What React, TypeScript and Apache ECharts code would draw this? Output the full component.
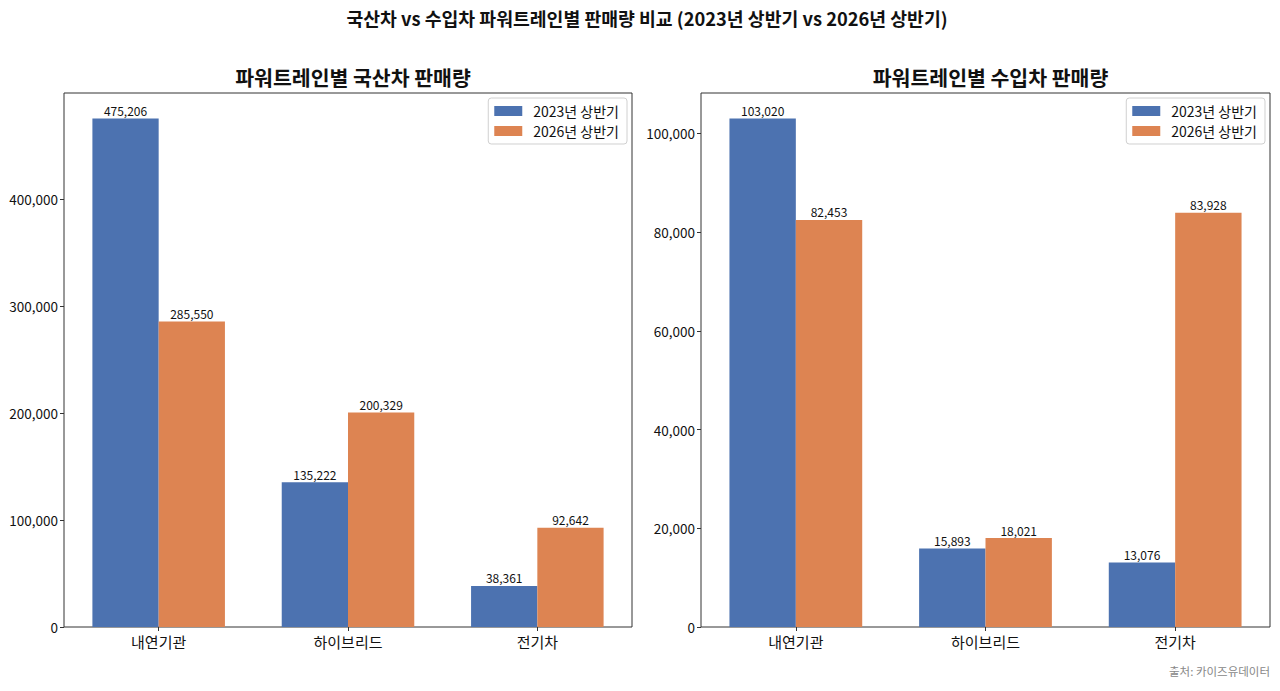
import React, { useEffect, useRef } from "react";
import * as echarts from "echarts";

const categories = ["내연기관", "하이브리드", "전기차"];
const seriesNames = ["2023년 상반기", "2026년 상반기"];
const domestic2023 = [475206, 135222, 38361];
const domestic2026 = [285550, 200329, 92642];
const import2023 = [103020, 15893, 13076];
const import2026 = [82453, 18021, 83928];
const domesticTicks = [0, 100000, 200000, 300000, 400000];
const importTicks = [0, 20000, 40000, 60000, 80000, 100000];

const mainTitle = "국산차 vs 수입차 파워트레인별 판매량 비교 (2023년 상반기 vs 2026년 상반기)";
const leftTitle = "파워트레인별 국산차 판매량";
const rightTitle = "파워트레인별 수입차 판매량";
const sourceText = "출처: 카이즈유데이터";

const BLUE = "#4C72B0";
const ORANGE = "#DD8452";
const FONT = "'Noto Sans CJK KR', 'Noto Sans', sans-serif";

const fmt = (v: number) => v.toLocaleString("en-US");

export default function App() {
  const ref = useRef<HTMLDivElement>(null);
  useEffect(() => {
    if (!ref.current) return;
    const chart = echarts.init(ref.current, undefined, { renderer: "svg" });
    const maxL = Math.max(...domestic2023, ...domestic2026) * 1.05;
    const maxR = Math.max(...import2023, ...import2026) * 1.05;
    const grids = [
      { left: 64, top: 93, width: 568, height: 534 },
      { left: 701, top: 93, width: 569, height: 534 },
    ];
    const xAxis = grids.map((_, i) => ({
      type: "category",
      gridIndex: i,
      data: categories,
      axisLine: { show: false },
      axisTick: { show: true, alignWithLabel: true, length: 4, lineStyle: { color: "#333" } },
      axisLabel: { color: "#111", fontSize: 15, fontFamily: FONT, margin: 7 },
    }));
    const mkY = (i: number, max: number, ticks: number[]) => ({
      type: "value",
      gridIndex: i,
      min: 0,
      max,
      splitLine: { show: false },
      axisLine: { show: false },
      axisTick: { show: true, length: 4, lineStyle: { color: "#333" }, customValues: ticks },
      axisLabel: {
        color: "#111",
        fontSize: 13.5,
        fontFamily: FONT,
        margin: 6,
        customValues: ticks,
        formatter: (v: number) => fmt(v),
      },
    });
    const label = {
      show: true,
      position: "top",
      distance: 2,
      color: "#111",
      fontSize: 12,
      fontFamily: FONT,
      formatter: (p: any) => fmt(p.value),
    };
    const mkSeries = (name: string, data: number[], idx: number, color: string) => ({
      type: "bar",
      name,
      data,
      xAxisIndex: idx,
      yAxisIndex: idx,
      barGap: "0%",
      barCategoryGap: "30%",
      itemStyle: { color },
      label,
    });
    const legendBase = {
      orient: "vertical",
      top: 98,
      data: seriesNames,
      itemWidth: 28,
      itemHeight: 10,
      itemGap: 6,
      icon: "rect",
      textStyle: { fontSize: 14, fontFamily: FONT, color: "#111", padding: [0, 0, 0, 6] },
      borderColor: "#d0d0d0",
      borderWidth: 1,
      borderRadius: 3,
      padding: [6, 8, 6, 6],
      backgroundColor: "rgba(255,255,255,0.8)",
    };
    chart.setOption({
      animation: false,
      backgroundColor: "#fff",
      title: [
        {
          text: mainTitle,
          left: 642,
          textAlign: "center",
          top: 4,
          textStyle: { fontSize: 18.3, fontWeight: "bold", fontFamily: FONT, color: "#111" },
        },
        {
          text: leftTitle,
          left: 64 + 284,
          textAlign: "center",
          top: 62,
          textStyle: { fontSize: 20.5, fontWeight: "bold", fontFamily: FONT, color: "#111" },
        },
        {
          text: rightTitle,
          left: 701 + 284.5,
          textAlign: "center",
          top: 62,
          textStyle: { fontSize: 20.5, fontWeight: "bold", fontFamily: FONT, color: "#111" },
        },
        {
          text: sourceText,
          right: 10,
          top: 665,
          padding: 0,
          textStyle: { fontSize: 11.5, fontWeight: "normal", fontFamily: FONT, color: "#888" },
        },
      ],
      legend: [
        { ...legendBase, right: 653 },
        { ...legendBase, right: 15 },
      ],
      grid: grids.map((g) => ({ ...g, show: true, borderColor: "#333", borderWidth: 1, backgroundColor: "transparent" })),
      xAxis,
      yAxis: [mkY(0, maxL, domesticTicks), mkY(1, maxR, importTicks)],
      series: [
        mkSeries(seriesNames[0], domestic2023, 0, BLUE),
        mkSeries(seriesNames[1], domestic2026, 0, ORANGE),
        mkSeries(seriesNames[0], import2023, 1, BLUE),
        mkSeries(seriesNames[1], import2026, 1, ORANGE),
      ],
    });
    return () => chart.dispose();
  }, []);
  return <div ref={ref} style={{ position: "fixed", left: 0, top: 0, width: 1280, height: 691 }} />;
}
